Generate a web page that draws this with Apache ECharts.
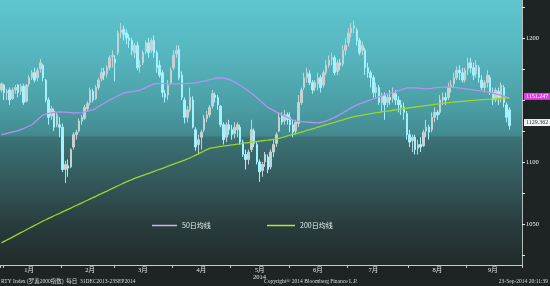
<!DOCTYPE html>
<html>
<head>
<meta charset="utf-8">
<script src="https://cdn.jsdelivr.net/npm/echarts@6/dist/echarts.min.js"></script>
<style>
html,body{margin:0;padding:0;background:#1e2424;}
#c{width:550px;height:286px;}
</style>
</head>
<body>
<div id="c"></div>
<script>
// Trading dates (category axis)
const dates = [
'2013-12-31',
'2014-01-02','2014-01-03','2014-01-06','2014-01-07','2014-01-08','2014-01-09','2014-01-10','2014-01-13','2014-01-14','2014-01-15','2014-01-16','2014-01-17','2014-01-21','2014-01-22','2014-01-23','2014-01-24','2014-01-27','2014-01-28','2014-01-29','2014-01-30','2014-01-31',
'2014-02-03','2014-02-04','2014-02-05','2014-02-06','2014-02-07','2014-02-10','2014-02-11','2014-02-12','2014-02-13','2014-02-14','2014-02-18','2014-02-19','2014-02-20','2014-02-21','2014-02-24','2014-02-25','2014-02-26','2014-02-27','2014-02-28',
'2014-03-03','2014-03-04','2014-03-05','2014-03-06','2014-03-07','2014-03-10','2014-03-11','2014-03-12','2014-03-13','2014-03-14','2014-03-17','2014-03-18','2014-03-19','2014-03-20','2014-03-21','2014-03-24','2014-03-25','2014-03-26','2014-03-27','2014-03-28','2014-03-31',
'2014-04-01','2014-04-02','2014-04-03','2014-04-04','2014-04-07','2014-04-08','2014-04-09','2014-04-10','2014-04-11','2014-04-14','2014-04-15','2014-04-16','2014-04-17','2014-04-21','2014-04-22','2014-04-23','2014-04-24','2014-04-25','2014-04-28','2014-04-29','2014-04-30',
'2014-05-01','2014-05-02','2014-05-05','2014-05-06','2014-05-07','2014-05-08','2014-05-09','2014-05-12','2014-05-13','2014-05-14','2014-05-15','2014-05-16','2014-05-19','2014-05-20','2014-05-21','2014-05-22','2014-05-23','2014-05-27','2014-05-28','2014-05-29','2014-05-30',
'2014-06-02','2014-06-03','2014-06-04','2014-06-05','2014-06-06','2014-06-09','2014-06-10','2014-06-11','2014-06-12','2014-06-13','2014-06-16','2014-06-17','2014-06-18','2014-06-19','2014-06-20','2014-06-23','2014-06-24','2014-06-25','2014-06-26','2014-06-27','2014-06-30',
'2014-07-01','2014-07-02','2014-07-03','2014-07-07','2014-07-08','2014-07-09','2014-07-10','2014-07-11','2014-07-14','2014-07-15','2014-07-16','2014-07-17','2014-07-18','2014-07-21','2014-07-22','2014-07-23','2014-07-24','2014-07-25','2014-07-28','2014-07-29','2014-07-30','2014-07-31',
'2014-08-01','2014-08-04','2014-08-05','2014-08-06','2014-08-07','2014-08-08','2014-08-11','2014-08-12','2014-08-13','2014-08-14','2014-08-15','2014-08-18','2014-08-19','2014-08-20','2014-08-21','2014-08-22','2014-08-25','2014-08-26','2014-08-27','2014-08-28','2014-08-29',
'2014-09-02','2014-09-03','2014-09-04','2014-09-05','2014-09-08','2014-09-09','2014-09-10','2014-09-11','2014-09-12','2014-09-15','2014-09-16','2014-09-17','2014-09-18','2014-09-19','2014-09-22','2014-09-23'
];
// empty slots after the last bar (right margin of the price area)
const padDates = ['2014-09-24','2014-09-25','2014-09-26','2014-09-29'];

// [open, close, low, high]
const candles = [
[1158,1163,1156,1164],
[1162,1156,1150,1163],[1156,1157,1150,1159],[1158,1150,1146,1160],[1151,1158,1150,1160],[1158,1160,1155,1162],[1162,1156,1152,1163],[1157,1161,1154,1163],[1161,1148,1146,1163],[1149,1162,1148,1163],[1163,1168,1161,1170],[1168,1172,1166,1174],[1172,1166,1164,1176],[1168,1174,1165,1176],[1175,1180,1172,1183],[1178,1168,1165,1179],[1166,1150,1148,1167],[1150,1136,1130,1152],[1137,1143,1134,1145],[1141,1128,1125,1143],[1130,1138,1128,1140],[1130,1128,1120,1136],
[1128,1094,1092,1131],[1094,1098,1083,1101],[1097,1095,1088,1102],[1096,1110,1095,1111],[1112,1122,1110,1124],[1122,1124,1118,1126],[1125,1133,1124,1135],[1133,1136,1130,1138],[1135,1144,1134,1146],[1143,1147,1141,1149],[1148,1158,1146,1160],[1157,1150,1148,1159],[1151,1160,1150,1162],[1160,1166,1158,1168],[1167,1172,1165,1176],[1173,1170,1166,1176],[1171,1176,1168,1178],[1176,1184,1174,1186],[1185,1186,1176,1190],
[1183,1180,1165,1186],[1188,1204,1186,1206],[1205,1206,1200,1212],[1207,1203,1198,1210],[1204,1200,1195,1207],[1200,1198,1192,1203],[1198,1190,1186,1200],[1188,1194,1184,1196],[1194,1176,1174,1197],[1177,1178,1172,1182],[1180,1188,1178,1190],[1189,1196,1187,1198],[1196,1188,1184,1200],[1190,1198,1188,1200],[1198,1188,1184,1202],[1188,1176,1172,1190],[1178,1170,1168,1182],[1172,1156,1152,1174],[1155,1152,1148,1158],[1154,1162,1150,1166],[1164,1174,1162,1176],
[1176,1186,1174,1190],[1187,1190,1184,1194],[1191,1168,1166,1194],[1170,1152,1150,1173],[1150,1136,1131,1152],[1136,1142,1132,1145],[1142,1152,1140,1160],[1150,1128,1127,1153],[1126,1112,1109,1128],[1114,1118,1106,1122],[1120,1124,1110,1126],[1126,1135,1124,1138],[1135,1138,1132,1141],[1138,1144,1136,1146],[1145,1155,1143,1158],[1154,1152,1148,1156],[1152,1146,1142,1154],[1145,1130,1128,1146],[1130,1118,1114,1132],[1120,1130,1116,1132],[1130,1126,1122,1134],
[1126,1122,1118,1130],[1123,1128,1119,1132],[1126,1130,1120,1132],[1128,1116,1114,1130],[1116,1106,1104,1118],[1106,1102,1094,1110],[1102,1108,1098,1110],[1110,1126,1108,1134],[1125,1115,1112,1127],[1114,1100,1098,1116],[1100,1092,1084,1102],[1093,1098,1088,1100],[1100,1106,1096,1108],[1104,1094,1091,1106],[1096,1108,1094,1110],[1108,1114,1104,1118],[1115,1122,1112,1124],[1125,1136,1124,1140],[1137,1132,1130,1140],[1133,1138,1130,1142],[1138,1134,1130,1140],
[1136,1130,1124,1140],[1130,1124,1120,1134],[1125,1132,1122,1134],[1131,1148,1128,1154],[1148,1158,1146,1160],[1160,1168,1158,1172],[1168,1172,1164,1176],[1171,1164,1162,1174],[1164,1158,1155,1166],[1160,1164,1157,1166],[1163,1168,1158,1172],[1168,1160,1156,1170],[1162,1172,1160,1174],[1172,1178,1170,1182],[1178,1182,1176,1186],[1183,1184,1178,1188],[1184,1172,1170,1186],[1173,1180,1170,1182],[1180,1178,1174,1183],[1179,1190,1177,1194],[1190,1194,1186,1200],
[1196,1204,1193,1208],[1204,1208,1200,1212],[1208,1210,1204,1214],[1206,1198,1194,1208],[1198,1188,1186,1200],[1190,1194,1186,1197],[1190,1176,1170,1192],[1176,1172,1168,1180],[1172,1168,1160,1174],[1168,1156,1152,1170],[1156,1160,1152,1164],[1160,1148,1146,1162],[1148,1154,1140,1156],[1154,1146,1134,1156],[1148,1152,1144,1155],[1152,1150,1146,1158],[1151,1156,1148,1160],[1155,1150,1146,1158],[1150,1146,1140,1153],[1146,1144,1138,1150],[1144,1140,1134,1148],[1139,1122,1118,1141],
[1122,1116,1112,1126],[1117,1120,1108,1122],[1120,1110,1106,1122],[1111,1114,1106,1118],[1114,1112,1108,1120],[1113,1124,1112,1126],[1125,1128,1120,1134],[1128,1124,1118,1130],[1126,1136,1124,1140],[1136,1140,1132,1144],[1140,1138,1134,1142],[1140,1150,1138,1154],[1150,1152,1146,1156],[1152,1150,1146,1156],[1152,1160,1150,1164],[1160,1162,1156,1166],[1163,1168,1160,1172],[1168,1174,1166,1177],[1174,1172,1166,1178],[1172,1166,1164,1176],[1166,1174,1164,1176],
[1175,1180,1170,1184],[1180,1176,1172,1184],[1176,1170,1166,1180],[1171,1178,1168,1182],[1176,1168,1164,1178],[1166,1160,1158,1170],[1160,1164,1156,1166],[1164,1170,1160,1174],[1168,1156,1154,1170],[1156,1150,1146,1160],[1150,1158,1148,1160],[1157,1152,1146,1160],[1152,1162,1148,1164],[1160,1148,1144,1162],[1146,1136,1132,1148],[1142,1129.362,1126,1144]
];

const ma50 = [
1122.0,1122.5,1123.1,1123.6,1124.2,1124.7,1125.3,1126.0,
1127,1128,1129,1130,1132,1134,1136,1138,
1138.6,1139.2,1139.6,1140,
1140.2,1140.3,1140.2,1140.1,1140,1139.8,1139.6,1139.5,1139.5,
1139.8,1140.3,1140.9,1141.5,1142,
1143.3,1144.6,1146,1147.3,1148.7,1150,
1151.1,1152.2,1153.4,1154.5,1155.6,
1156,1156.4,1156.8,1157.2,1157.6,1158,
1159,1160,1161,1162,1163,
1163.2,1163.3,1163.3,1163.2,1163.1,1163,1163,1163,1163,
1163.1,1163.2,1163.3,1163.4,1163.6,1163.7,
1164.2,1164.7,1165.2,1165.8,1166.3,1166.8,1167.3,1167.7,
1167.8,1167.6,1167.1,1166.4,1165.5,1164.5,
1163.2,1161.8,1160.3,1158.8,1157.2,1155.6,
1153.7,1151.8,1149.9,1148,1146,1144,
1142.8,1141.6,1140.4,1139.2,1138,
1137,1136,1135,1134,1133,
1132.8,1132.6,1132.4,1132.2,1132,1131.8,1131.6,1131.5,
1131.8,1132.4,1133.1,1133.9,1134.9,1136,
1137.2,1138.4,1139.7,1141,1142.3,1143.6,1144.8,1146,
1146.8,1147.6,1148.4,1149.2,1150,1150.8,1151.6,1152.4,1153.2,1154,
1154.7,1155.4,1156.1,1156.8,1157.5,1158.2,1159,1159.7,
1159.8,1159.8,1159.7,1159.5,1159.3,1159.1,1159,
1159.2,1159.4,1159.7,1159.9,1160.1,1160.3,1160.5,
1160.4,1160.3,1160.1,1159.9,1159.6,1159.3,1159,
1158.7,1158.4,1158.1,1157.8,1157.5,1157.2,1156.9,1156.5,
1156,1155.4,1154.8,1154.2,1153.6,1153,1152.4,1151.247
];

const ma200 = [
1034.7,1035.9,1037.1,1038.2,1039.4,1040.6,1041.8,1043.0,1044.1,1045.3,1046.5,1047.7,1048.8,1050.0,1051.2,1052.4,
1053.4,1054.5,1055.5,1056.6,1057.6,1058.6,1059.7,1060.7,1061.8,1062.8,1063.9,1064.9,1066.0,1067.0,
1068.1,1069.1,1070.2,1071.2,1072.3,1073.4,1074.4,1075.5,1076.5,1077.6,1078.7,1079.7,1080.8,1081.8,1082.9,1084.0,1085.0,
1085.8,1086.7,1087.5,1088.3,1089.1,1090.0,1090.8,1091.6,1092.4,1093.3,1094.1,1094.9,1095.7,1096.6,1097.4,1098.2,1099.0,1099.8,1100.7,1101.5,
1102.4,1103.4,1104.4,1105.5,1106.6,1107.7,1108.8,1109.9,1111.0,
1111.4,1111.8,1112.2,1112.5,1112.8,1113.1,1113.4,1113.7,1114.0,1114.3,1114.6,1115.0,
1115.3,1115.6,1115.9,1116.2,1116.5,1116.8,1117.1,1117.4,1117.6,1117.9,1118.2,1118.5,
1119.1,1119.7,1120.3,1121.0,1121.6,1122.2,1122.9,1123.5,1124.1,1124.7,1125.4,1126.0,
1126.7,1127.3,1128.0,1128.7,1129.4,1130.0,1130.7,1131.4,1132.0,1132.7,1133.4,1134.0,1134.7,
1135.3,1135.9,1136.5,1137.0,1137.4,1137.8,1138.2,1138.6,1139.0,1139.3,1139.7,1140.0,
1140.3,1140.7,1141.0,1141.3,1141.7,1142.0,1142.3,1142.7,1143.0,1143.3,1143.7,1144.0,
1144.3,1144.6,1144.9,1145.2,1145.5,1145.8,1146.1,1146.4,1146.7,1147.0,1147.3,1147.6,
1147.8,1148.0,1148.2,1148.4,1148.6,1148.8,1149.0,1149.2,1149.4,1149.6,1149.8,1150.0,
1150.2,1150.3,1150.5,1150.6,1150.8,1150.9,1151.1,1151.2,1151.4,1151.5,1151.7
];

const yTickValues = [1025,1050,1075,1100,1125,1150,1175,1200,1225];
const yTickLabels = [1050,1100,1200];   // 1150 is hidden behind the MA flag
const seriesNames = ['RTY Index','50日均线','200日均线'];
const footerLeft = 'RTY Index (罗素2000指数)  每日  31DEC2013-23SEP2014';
const footerMid = 'Copyright® 2014 Bloomberg Finance L.P.';
const footerRight = '23-Sep-2014 20:11:39';

// category helpers built from the dates
const allDates = dates.concat(padDates);
const tickIdx = new Set(), labelIdx = new Set();
const seenMonth = {}, labelledMonth = {};
allDates.forEach((d, i) => {
  if (i >= dates.length) return;
  const key = d.slice(0, 7), day = +d.slice(8, 10);
  if (!seenMonth[key]) { seenMonth[key] = { first: day }; tickIdx.add(i); }
  if (seenMonth[key].first <= 5 && !labelledMonth[key] && day >= 15) { labelledMonth[key] = true; labelIdx.add(i); }
});

const lastClose = candles[candles.length - 1][1];
const lastMa50 = ma50[ma50.length - 1];

const serifCJK = "'Liberation Serif','Noto Sans CJK SC'";
const footStyle = { color: '#d4dcdc', fontSize: 5.5, fontWeight: 'normal', fontFamily: serifCJK };

const chart = echarts.init(document.getElementById('c'), null, { renderer: 'canvas' });
chart.setOption({
  animation: false,
  backgroundColor: '#1e2424',
  title: [
    { text: footerLeft, left: 1, top: 279, padding: 0, textStyle: footStyle },
    { text: footerMid, left: 264, top: 279, padding: 0, textStyle: footStyle },
    { text: footerRight, right: 2, top: 279, padding: 0, textStyle: footStyle }
  ],
  legend: [
    { data: [seriesNames[1]], left: 152, top: 222, padding: 0, icon: 'rect', itemWidth: 25, itemHeight: 1.5,
      textStyle: { color: '#e6ecec', fontSize: 7, fontFamily: 'Noto Sans CJK SC' } },
    { data: [seriesNames[2]], left: 267, top: 222, padding: 0, icon: 'rect', itemWidth: 28, itemHeight: 1.5,
      textStyle: { color: '#e6ecec', fontSize: 7, fontFamily: 'Noto Sans CJK SC' } }
  ],
  grid: {
    left: 0, right: 28, top: 0, bottom: 21, containLabel: false, outerBoundsMode: 'none',
    show: true, borderWidth: 0,
    backgroundColor: {
      type: 'linear', x: 0, y: 0, x2: 0, y2: 1,
      colorStops: [
        { offset: 0, color: '#5ec5cf' },
        { offset: 0.2, color: '#56b6bf' },
        { offset: 0.4, color: '#4b9ea5' },
        { offset: 0.51, color: '#438a90' },
        { offset: 0.52, color: '#3b7276' },
        { offset: 0.7, color: '#325659' },
        { offset: 0.85, color: '#293c3d' },
        { offset: 1, color: '#222b2b' }
      ]
    }
  },
  xAxis: {
    type: 'category', data: allDates, boundaryGap: true,
    axisLine: { show: true, lineStyle: { color: '#c4cccc', width: 1 } },
    axisTick: { show: true, length: 3, lineStyle: { color: '#c4cccc' },
      interval: (i) => tickIdx.has(i) },
    axisLabel: {
      interval: (i) => labelIdx.has(i),
      margin: 2, fontSize: 6.5, lineHeight: 7, color: '#e2e8e8', fontFamily: serifCJK,
      formatter: (v) => { const m = +v.slice(5, 7); return m + '月' + (m === 5 ? '\n' + v.slice(0, 4) : ''); }
    },
    splitLine: { show: false }
  },
  yAxis: {
    type: 'value', position: 'right', min: 1016.9, max: 1230.6, scale: true,
    axisLine: { show: true, lineStyle: { color: '#b4bcbc', width: 1 } },
    axisTick: { show: true, length: 3, customValues: yTickValues, lineStyle: { color: '#e8eeee' } },
    axisLabel: { customValues: yTickLabels, margin: 4, fontSize: 6.5, color: '#f0f4f4', fontFamily: "'Liberation Serif'",
      formatter: (v) => String(v) },
    splitLine: { show: false }
  },
  series: [
    {
      name: seriesNames[0], type: 'candlestick', data: candles, barWidth: 2, z: 3,
      itemStyle: { color: '#c4d2d2', color0: '#a6f1ff', borderColor: '#c4d2d2', borderColor0: '#a6f1ff', borderWidth: 1 },
      markLine: {
        silent: true, symbol: ['none', 'none'], z: 10, precision: 3,
        lineStyle: { color: 'rgba(0,0,0,0)', width: 1, type: 'solid' },
        label: { show: true, position: 'end', distance: 2, offset: [0, -3], formatter: (p) => Number(p.value).toFixed(3),
          backgroundColor: '#f2f4f4', color: '#333', fontSize: 6, padding: [1, 2, 0, 2], fontFamily: "'Liberation Serif'" },
        data: [{ yAxis: lastClose }]
      }
    },
    {
      name: seriesNames[1], type: 'line', data: ma50, symbol: 'none', z: 4,
      lineStyle: { color: '#b792ef', width: 1.3 }, itemStyle: { color: '#c8b6f2' },
      markLine: {
        silent: true, symbol: ['none', 'none'], z: 10, precision: 3,
        lineStyle: { color: 'rgba(0,0,0,0)', width: 1, type: 'solid' },
        label: { show: true, position: 'end', distance: 2, offset: [0, -2], formatter: (p) => Number(p.value).toFixed(3),
          backgroundColor: '#e23ae4', color: '#ffffff', fontSize: 6, padding: [1, 2, 0, 2], fontFamily: "'Liberation Serif'" },
        data: [{ yAxis: lastMa50 }]
      }
    },
    {
      name: seriesNames[2], type: 'line', data: ma200, symbol: 'none', z: 4,
      lineStyle: { color: '#9ad62e', width: 1.3 }, itemStyle: { color: '#c2e22a' }
    }
  ]
});
</script>
</body>
</html>
